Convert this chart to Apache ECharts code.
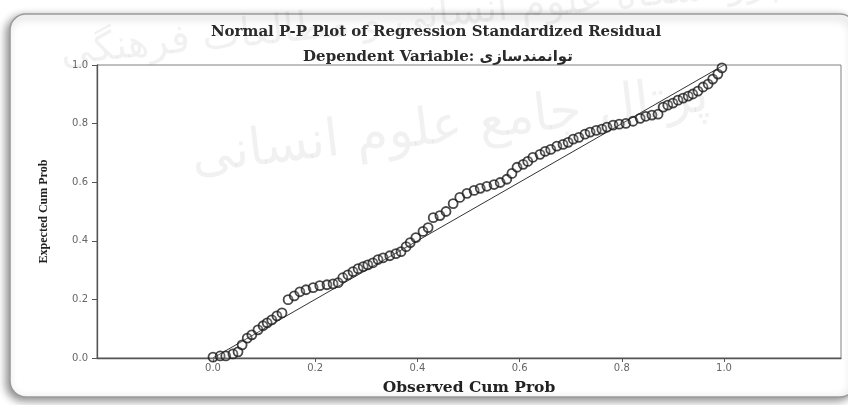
<!DOCTYPE html>
<html>
<head>
<meta charset="utf-8">
<script src="https://cdn.jsdelivr.net/npm/echarts@6/dist/echarts.min.js"></script>
<style>
  html, body { margin: 0; padding: 0; background: #fff; }
  #chart { width: 848px; height: 405px; }
</style>
</head>
<body>
<div id="chart"></div>
<script>
// observed / expected cumulative probabilities
const obsCumProb = [
  0.000, 0.014, 0.025, 0.039, 0.049, 0.057, 0.067, 0.076, 0.088, 0.098,
  0.106, 0.115, 0.125, 0.135, 0.147, 0.159, 0.170, 0.182, 0.196, 0.209,
  0.223, 0.235, 0.245, 0.254, 0.264, 0.274, 0.284, 0.294, 0.303, 0.313,
  0.323, 0.333, 0.346, 0.358, 0.368, 0.378, 0.386, 0.397, 0.411, 0.421,
  0.431, 0.444, 0.456, 0.470, 0.483, 0.497, 0.511, 0.523, 0.536, 0.550,
  0.562, 0.575, 0.585, 0.595, 0.607, 0.616, 0.626, 0.640, 0.650, 0.661,
  0.673, 0.685, 0.695, 0.705, 0.716, 0.728, 0.738, 0.750, 0.761, 0.771,
  0.783, 0.795, 0.808, 0.822, 0.836, 0.847, 0.859, 0.871, 0.881, 0.890,
  0.900, 0.910, 0.920, 0.930, 0.939, 0.949, 0.959, 0.969, 0.978, 0.988,
  0.996
];
const expCumProb = [
  0.003, 0.007, 0.007, 0.014, 0.021, 0.045, 0.068, 0.079, 0.096, 0.110,
  0.120, 0.130, 0.144, 0.154, 0.199, 0.212, 0.226, 0.233, 0.240, 0.247,
  0.250, 0.253, 0.257, 0.274, 0.284, 0.295, 0.305, 0.312, 0.318, 0.325,
  0.336, 0.342, 0.349, 0.356, 0.363, 0.380, 0.394, 0.411, 0.432, 0.445,
  0.479, 0.486, 0.500, 0.527, 0.548, 0.562, 0.572, 0.579, 0.586, 0.592,
  0.599, 0.610, 0.630, 0.651, 0.661, 0.671, 0.685, 0.695, 0.705, 0.712,
  0.723, 0.729, 0.736, 0.747, 0.753, 0.764, 0.771, 0.777, 0.781, 0.788,
  0.795, 0.798, 0.801, 0.808, 0.818, 0.825, 0.829, 0.832, 0.856, 0.863,
  0.870, 0.880, 0.887, 0.894, 0.901, 0.911, 0.925, 0.935, 0.952, 0.969,
  0.990
];
// diagonal reference line
const refLineX = [0, 1];
const refLineY = [0, 1];
// tick labels
const xTickValues = [0, 0.2, 0.4, 0.6, 0.8, 1.0];

const titleText = 'Normal P-P Plot of Regression Standardized Residual';
const subTitleText = 'Dependent Variable: توانمندسازی';

const chart = echarts.init(document.getElementById('chart'), null, { renderer: 'canvas' });

const serif = '"DejaVu Serif", "Liberation Serif", "DejaVu Sans", serif';

const option = {
  animation: false,
  backgroundColor: '#fff',
  graphic: [
    {
      type: 'rect', z: -10,
      shape: { x: 10, y: 14, width: 846, height: 383, r: 16 },
      style: {
        fill: '#fff', stroke: '#9a9a9a', lineWidth: 1.5,
        shadowBlur: 8, shadowColor: 'rgba(0,0,0,0.45)', shadowOffsetX: -3, shadowOffsetY: 3
      }
    },
    // faint watermark
    {
      type: 'text', z: -5, x: 420, y: 18, rotation: 0.1,
      style: {
        text: 'پژوهشگاه علوم انسانی و مطالعات فرهنگی',
        font: '40px "DejaVu Sans"', fill: 'rgba(0,0,0,0.055)',
        align: 'center', verticalAlign: 'middle'
      }
    },
    {
      type: 'text', z: -5, x: 450, y: 128, rotation: 0.12,
      style: {
        text: 'پرتال جامع علوم انسانی',
        font: '52px "DejaVu Sans"', fill: 'rgba(0,0,0,0.055)',
        align: 'center', verticalAlign: 'middle'
      }
    }
  ],
  title: [
    {
      text: titleText, left: 436, top: 25, textAlign: 'center', padding: 0,
      textStyle: { fontFamily: serif, fontSize: 15, fontWeight: 'bold', color: '#2a2a2a' }
    },
    {
      text: subTitleText, left: 438, top: 50, textAlign: 'center', padding: 0,
      textStyle: { fontFamily: serif, fontSize: 15, fontWeight: 'bold', color: '#2a2a2a' }
    }
  ],
  grid: {
    left: 97, right: 7, top: 65, bottom: 47,
    show: true, borderColor: '#808080', borderWidth: 1, backgroundColor: 'transparent'
  },
  xAxis: {
    type: 'value', min: -0.227, max: 1.229,
    name: 'Observed Cum Prob', nameLocation: 'middle', nameGap: 22,
    nameTextStyle: { fontFamily: serif, fontSize: 15.5, fontWeight: 'bold', color: '#222' },
    axisLine: { onZero: false, lineStyle: { color: '#555', width: 1.3 } },
    axisTick: { show: true, length: 4, customValues: xTickValues, lineStyle: { color: '#555' } },
    axisLabel: {
      customValues: xTickValues, margin: 5,
      formatter: v => v.toFixed(1),
      fontFamily: '"DejaVu Sans"', fontSize: 10, color: '#666'
    },
    splitLine: { show: false }
  },
  yAxis: {
    type: 'value', min: 0, max: 1, interval: 0.2,
    name: 'Expected Cum Prob', nameLocation: 'middle', nameGap: 47, nameRotate: 90,
    nameTextStyle: { fontFamily: '"Liberation Serif", serif', fontSize: 12, fontWeight: 'bold', color: '#222' },
    axisLine: { show: true, onZero: false, lineStyle: { color: '#555', width: 1.3 } },
    axisTick: { show: true, length: 5, lineStyle: { color: '#555' } },
    axisLabel: {
      margin: 9, formatter: v => v.toFixed(1),
      fontFamily: '"DejaVu Sans"', fontSize: 10, color: '#666'
    },
    splitLine: { show: false }
  },
  series: [
    {
      type: 'line', data: refLineX.map((x, i) => [x, refLineY[i]]),
      symbol: 'none', lineStyle: { color: '#333', width: 1 }, z: 2
    },
    {
      type: 'scatter', data: obsCumProb.map((x, i) => [x, expCumProb[i]]),
      symbol: 'circle', symbolSize: 9,
      itemStyle: { color: 'rgba(255,255,255,0.2)', borderColor: '#1a1a1a', borderWidth: 1.8 },
      z: 3
    }
  ]
};

chart.setOption(option);
</script>
</body>
</html>
